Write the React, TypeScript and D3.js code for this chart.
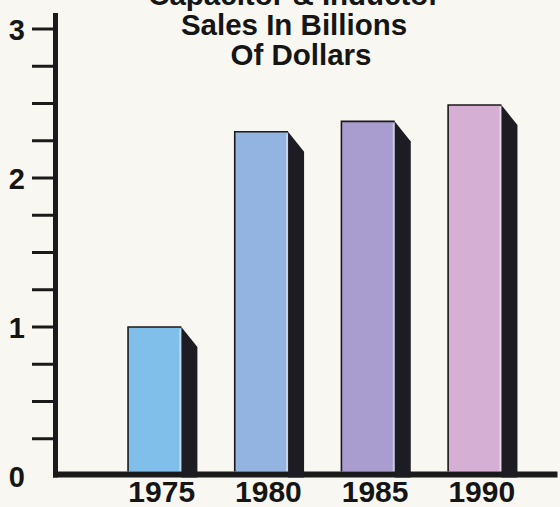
import React from "react";
import * as d3 from "d3";

const years = ["1975", "1980", "1985", "1990"];
const sales = [1.0, 2.31, 2.38, 2.49];
const barColors = ["#7fbfea", "#93b4e0", "#a99cce", "#d6afd4"];
const majorTicks = [0, 1, 2, 3];
const titleLines = ["Capacitor & Inductor", "Sales In Billions", "Of Dollars"];

const W = 560;
const H = 507;
const FONT = "'Liberation Sans', Arial, Helvetica, sans-serif";

export default function App() {
  const x = d3
    .scaleBand<string>()
    .domain(years)
    .range([74.7, 554.8])
    .paddingInner(0.5)
    .paddingOuter(0.5);
  const y = d3.scaleLinear().domain([0, 3]).range([476, 29]);
  const minor = d3.range(0, 3.001, 0.25);
  const bw = x.bandwidth();
  const sideW = 16;
  const sideDrop = 20;
  const axisX = 55.5;
  const baseTop = 471.5;
  const baseBottom = 477.5;

  return (
    <div style={{ position: "fixed", left: 0, top: 0 }}>
      <svg width={W} height={H} style={{ display: "block" }}>
        <rect x={0} y={0} width={W} height={H} fill="#f9f7f2" />
        {/* title */}
        {titleLines.map((t, i) => (
          <text
            key={t}
            x={i === 2 ? 301 : 294}
            y={5 + i * 30}
            textAnchor="middle"
            fontFamily={FONT}
            fontWeight="bold"
            fontSize={29.5}
            fill="#151515"
          >
            {t}
          </text>
        ))}
        {/* bars */}
        {years.map((yr, i) => {
          const x0 = x(yr)!;
          const x1 = x0 + bw;
          const top = y(sales[i]);
          return (
            <g key={yr}>
              <rect x={x0} y={top} width={bw} height={baseTop - top} fill={barColors[i]} />
              <line x1={x1 - 1} x2={x1 - 1} y1={top + 2} y2={baseTop} stroke="#ffffff" strokeOpacity={0.45} strokeWidth={2} />
              <path d={`M${x0},${baseTop} L${x0},${top} L${x1},${top}`} fill="none" stroke="#1a1a1a" strokeWidth={1.6} />
            </g>
          );
        })}
        {/* baseline */}
        <rect x={axisX - 2.5} y={baseTop} width={W - axisX} height={baseBottom - baseTop} fill="#1a1a1a" />
        {years.map((yr, i) => {
          const x1 = x(yr)! + bw;
          const top = y(sales[i]);
          const side = `M${x1},${top} L${x1 + sideW},${top + sideDrop} L${x1 + sideW},${baseBottom} L${x1},${baseBottom} Z`;
          return <path key={"s" + yr} d={side} fill="#1d1c22" />;
        })}
        {/* y axis */}
        <rect x={axisX - 2.5} y={13} width={5} height={baseBottom - 13} fill="#1a1a1a" />
        {minor.map((v) =>
          v === 0 ? null : (
            <line key={v} x1={32} x2={axisX} y1={y(v)} y2={y(v)} stroke="#1a1a1a" strokeWidth={3} />
          )
        )}
        {majorTicks.map((v) => (
          <text
            key={"l" + v}
            x={25}
            y={y(v) + 10.5}
            textAnchor="end"
            fontFamily={FONT}
            fontWeight="bold"
            fontSize={29}
            fill="#151515"
          >
            {v}
          </text>
        ))}
        {/* x labels */}
        {years.map((yr) => (
          <text
            key={"x" + yr}
            x={x(yr)! + (bw + sideW) / 2 - 1}
            y={502}
            textAnchor="middle"
            fontFamily={FONT}
            fontWeight="bold"
            fontSize={30}
            fill="#151515"
          >
            {yr}
          </text>
        ))}
      </svg>
    </div>
  );
}
